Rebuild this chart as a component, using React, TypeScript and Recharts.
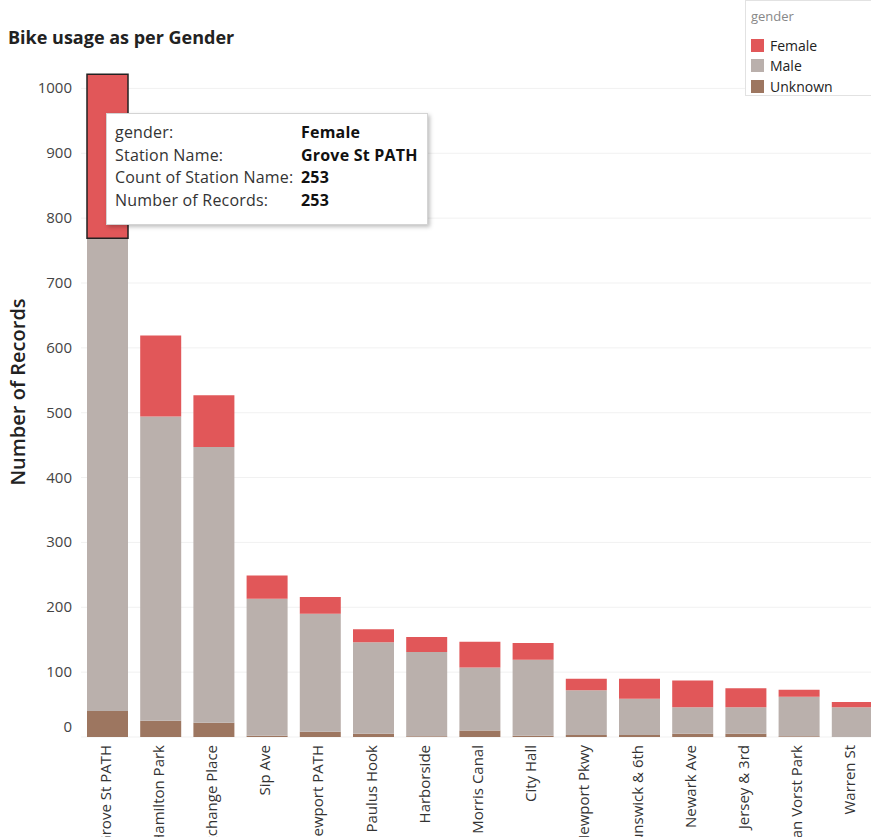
import { BarChart, Bar, XAxis, YAxis, Tooltip, CartesianGrid, Cell } from 'recharts';

const stations = [
  'Grove St PATH',
  'Hamilton Park',
  'Exchange Place',
  'Sip Ave',
  'Newport PATH',
  'Paulus Hook',
  'Harborside',
  'Morris Canal',
  'City Hall',
  'Newport Pkwy',
  'Brunswick & 6th',
  'Newark Ave',
  'Jersey & 3rd',
  'Van Vorst Park',
  'Warren St',
];
const female = [253, 125, 80, 36, 26, 20, 23, 40, 26, 18, 31, 41, 29, 11, 8];
const male = [729, 469, 425, 211, 182, 141, 130, 97, 117, 69, 56, 41, 41, 61, 46];
const unknown = [40, 25, 22, 2, 8, 5, 1, 10, 2, 3, 3, 5, 5, 1, 0];
const yTicks = [0, 100, 200, 300, 400, 500, 600, 700, 800, 900, 1000];

const genders = [
  { key: 'Female', color: '#e15759' },
  { key: 'Male', color: '#bab0ac' },
  { key: 'Unknown', color: '#9d7660' },
];

const data = stations.map((name, i) => ({
  name,
  Female: female[i],
  Male: male[i],
  Unknown: unknown[i],
}));

const FONT = '"Open Sans", "Noto Sans", sans-serif';

// the 0 label sits a little above the baseline
const YTick = ({ x, y, payload }: any) => (
  <text
    x={x - 1}
    y={payload.value === 0 ? y - 10 : y}
    dy={5}
    textAnchor="end"
    fontSize={15}
    fill="#444"
    fontFamily={FONT}
  >
    {payload.value}
  </text>
);

const XTick = ({ x, y, payload }: any) => (
  <text
    transform={`translate(${x + 3},${y}) rotate(-90)`}
    textAnchor="end"
    fontSize={15}
    fill="#333"
    fontFamily={FONT}
  >
    {payload.value}
  </text>
);

const YTitle = () => (
  <text
    transform="translate(25,392) rotate(-90)"
    textAnchor="middle"
    fontSize={20}
    fontWeight={600}
    fill="#222"
    fontFamily={FONT}
  >
    Number of Records
  </text>
);

const GenderLegend = () => (
  <div
    style={{
      position: 'absolute',
      left: 745,
      top: 0,
      background: '#fff',
      border: '1px solid #e2e2e2',
      width: 140,
      height: 96,
      fontFamily: FONT,
      boxSizing: 'border-box',
      padding: '6px 0 0 5px',
      zIndex: 2,
    }}
  >
    <div style={{ color: '#888', fontSize: 13, height: 28 }}>gender</div>
    {genders.map((g) => (
      <div key={g.key} style={{ display: 'flex', alignItems: 'center', height: 20.5, fontSize: 14, color: '#222' }}>
        <span style={{ width: 13, height: 13, background: g.color, marginRight: 6, display: 'inline-block' }} />
        {g.key}
      </div>
    ))}
  </div>
);

const DetailTip = ({ payload }: any) => {
  if (!payload || !payload.length) return null;
  const row = payload[0].payload;
  const lines = [
    ['gender:', 'Female'],
    ['Station Name:', row.name],
    ['Count of Station Name:', row.Female],
    ['Number of Records:', row.Female],
  ];
  return (
    <div
      style={{
        background: '#fff',
        border: '1px solid #d4d4d4',
        boxShadow: '2px 2px 4px rgba(0,0,0,0.25)',
        width: 322,
        height: 112,
        boxSizing: 'border-box',
        padding: '7px 0 0 8px',
        fontFamily: FONT,
        fontSize: 16,
        letterSpacing: 0.2,
        color: '#333',
      }}
    >
      {lines.map(([k, v]) => (
        <div key={k} style={{ display: 'flex', height: 22.5, whiteSpace: 'nowrap' }}>
          <span style={{ width: 186 }}>{k}</span>
          <span style={{ fontWeight: 700, color: '#111' }}>{v}</span>
        </div>
      ))}
    </div>
  );
};

export default function App() {
  return (
    <div style={{ position: 'absolute', left: 0, top: 0, width: 871, height: 837, overflow: 'hidden', background: '#fff' }}>
      <div
        style={{
          position: 'absolute',
          left: 8,
          top: 25,
          fontFamily: FONT,
          fontSize: 18,
          fontWeight: 700,
          color: '#222',
          zIndex: 2,
        }}
      >
        Bike usage as per Gender
      </div>
      <GenderLegend />
      <BarChart
        width={879}
        height={880}
        data={data}
        margin={{ top: 56, right: 0, left: 0, bottom: 0 }}
        barSize={41}
      >
        <CartesianGrid vertical={false} stroke="#f1f1f1" syncWithTicks />
        <XAxis
          dataKey="name"
          interval={0}
          axisLine={false}
          tickLine={false}
          height={143}
          tick={<XTick />}
        />
        <YAxis
          width={81}
          domain={[0, 1050]}
          ticks={yTicks}
          axisLine={false}
          tickLine={false}
          tick={<YTick />}
          label={<YTitle />}
        />
        <Tooltip
          active
          defaultIndex={0}
          cursor={false}
          position={{ x: 106, y: 113 }}
          content={<DetailTip />}
          wrapperStyle={{ zIndex: 3 }}
        />
        <Bar dataKey="Unknown" stackId="g" fill="#9d7660" isAnimationActive={false} />
        <Bar dataKey="Male" stackId="g" fill="#bab0ac" isAnimationActive={false} />
        <Bar dataKey="Female" stackId="g" fill="#e15759" isAnimationActive={false}>
          {data.map((d, i) => (
            <Cell key={d.name} stroke={i === 0 ? '#222' : 'none'} strokeWidth={i === 0 ? 1.5 : 0} />
          ))}
        </Bar>
      </BarChart>
    </div>
  );
}
